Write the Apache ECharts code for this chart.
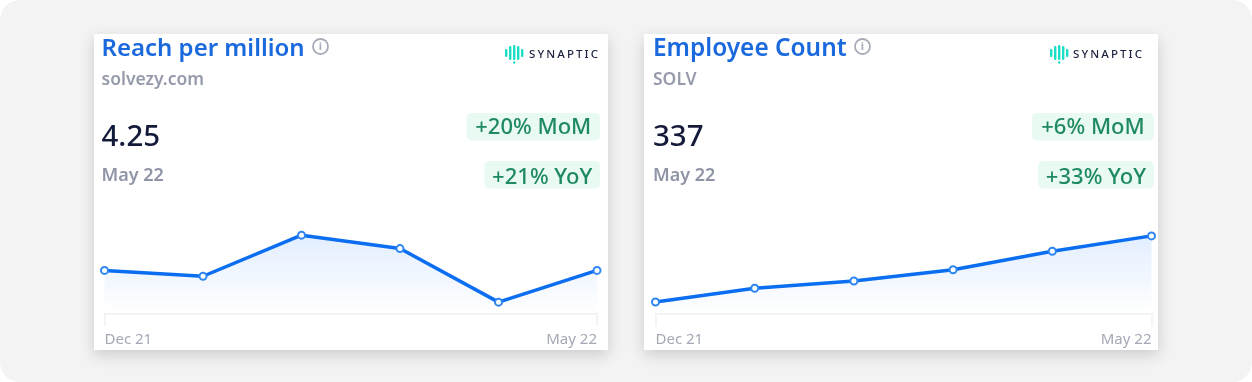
<!DOCTYPE html>
<html>
<head>
<meta charset="utf-8">
<title>Reach per million and Employee Count</title>
<script src="https://cdn.jsdelivr.net/npm/echarts@6/dist/echarts.min.js"></script>
<style>
  html, body { margin: 0; padding: 0; background: #fff; }
  #wrap { position: relative; width: 1252px; height: 382px; }
  #chart { width: 1252px; height: 382px; }
  .logo {
    position: absolute;
    font: 500 11.5px "Noto Sans", sans-serif;
    letter-spacing: 2.1px;
    color: #1c2340;
    line-height: 14px;
  }
</style>
</head>
<body>
<div id="wrap">
  <div id="chart"></div>
  <span class="logo" style="left:529px;top:47px">SYNAPTIC</span>
  <span class="logo" style="left:1073px;top:47px">SYNAPTIC</span>
</div>
<script>
const months = ['Dec 21', 'Jan 22', 'Feb 22', 'Mar 22', 'Apr 22', 'May 22'];
const reachValues = [4.25, 4.12, 5.04, 4.74, 3.54, 4.25];
const employeeValues = [255, 272, 281, 295, 318, 337];

const FONT = '"Noto Sans", sans-serif';
const BLUE = '#0b6ef0';

function label(x, y, text, size, weight, fill, align) {
  return {
    type: 'text',
    x: x,
    y: y,
    z: 5,
    style: {
      text: text,
      font: weight + ' ' + size + 'px ' + FONT,
      fill: fill,
      align: align || 'left',
      verticalAlign: 'middle'
    }
  };
}

function badge(x, y, w, h, text, textY) {
  return [
    {
      type: 'rect',
      z: 1,
      shape: { x: x, y: y, width: w, height: h, r: 5 },
      style: { fill: '#e9faf3' }
    },
    label(x + w / 2, textY, text, 22, 500, '#1f8a5f', 'center')
  ];
}

function infoIcon(cx, cy) {
  return [
    {
      type: 'circle',
      z: 5,
      shape: { cx: cx, cy: cy, r: 7.5 },
      style: { fill: 'none', stroke: '#a7acb8', lineWidth: 1.8 }
    },
    label(cx, cy + 0.5, 'i', 11, 700, '#a7acb8', 'center')
  ];
}

function logoBars(x, y) {
  const bars = [[0, 4, 8], [4, 1, 14], [8, 0, 15], [12, 1, 14], [16, 4, 8]];
  const marks = bars.map(function (b) {
    return {
      type: 'rect',
      z: 5,
      shape: { x: x + b[0], y: y + b[1], width: 2.4, height: b[2], r: 1 },
      style: { fill: '#19dfc6' }
    };
  });
  marks.push({
    type: 'circle',
    z: 5,
    shape: { cx: x + 9.2, cy: y + 17.5, r: 1.2 },
    style: { fill: '#19dfc6' }
  });
  return marks;
}

function card(x, info) {
  const right = x + 514;
  return [
    {
      type: 'rect',
      z: -1,
      shape: { x: x, y: 34, width: 514, height: 316 },
      style: {
        fill: '#ffffff',
        shadowBlur: 14,
        shadowOffsetY: 5,
        shadowColor: 'rgba(0, 0, 0, 0.16)'
      }
    },
    label(x + info.titleX, 49.5, info.title, info.titleSize, 600, '#1a69dd'),
    label(x + info.titleX, 80, info.sub, 17.5, 600, '#969bab'),
    label(x + info.titleX, 138, info.value, 29.5, 500, '#141b3a'),
    label(x + info.titleX, 176, 'May 22', 18, 600, '#8f95a6')
  ]
    .concat(infoIcon(x + info.iconX, 46.5))
    .concat(logoBars(right - info.logoX, 45))
    .concat(badge(right - info.momW - info.badgeGap, 113, info.momW, 27.5, info.mom, 128))
    .concat(badge(right - info.yoyW - info.badgeGap, 161, info.yoyW, 27.5, info.yoy, 177.5));
}

function sparkGrid(left, right) {
  return { left: left, width: right - left, top: 213.3, height: 100 };
}

function xAxis(gridIndex) {
  const ends = function (i) {
    return i === 0 || i === months.length - 1;
  };
  return {
    type: 'category',
    gridIndex: gridIndex,
    data: months,
    boundaryGap: false,
    axisLine: { lineStyle: { color: '#f1f1f3', width: 1.5 } },
    axisTick: { show: true, interval: ends, length: 13, lineStyle: { color: '#f1f1f3', width: 1.5 } },
    axisLabel: {
      interval: ends,
      alignMinLabel: 'left',
      alignMaxLabel: 'right',
      margin: 19,
      fontFamily: 'Noto Sans',
      fontSize: 15,
      color: '#a4a9b6'
    }
  };
}

function yAxis(gridIndex, min, max) {
  return { type: 'value', gridIndex: gridIndex, min: min, max: max, show: false };
}

function lineSeries(axisIndex, name, values) {
  return {
    type: 'line',
    name: name,
    xAxisIndex: axisIndex,
    yAxisIndex: axisIndex,
    data: values,
    symbol: 'circle',
    symbolSize: 7,
    showAllSymbol: true,
    animation: false,
    clip: false,
    lineStyle: { color: BLUE, width: 3.5 },
    itemStyle: { color: '#ffffff', borderColor: '#2f86f2', borderWidth: 2 },
    areaStyle: {
      color: new echarts.graphic.LinearGradient(0, 0, 0, 1, [
        { offset: 0, color: 'rgba(13, 111, 255, 0.17)' },
        { offset: 1, color: 'rgba(13, 111, 255, 0)' }
      ])
    }
  };
}

const chart = echarts.init(document.getElementById('chart'));
chart.setOption({
  animation: false,
  grid: [sparkGrid(104.5, 597), sparkGrid(655.5, 1151.5)],
  xAxis: [xAxis(0), xAxis(1)],
  yAxis: [yAxis(0, 3.29, 5.53), yAxis(1, 241, 365)],
  series: [
    lineSeries(0, 'Reach per million', reachValues),
    lineSeries(1, 'Employee Count', employeeValues)
  ],
  graphic: [
    {
      type: 'rect',
      z: -2,
      shape: { x: 0, y: 0, width: 1252, height: 382, r: 20 },
      style: { fill: '#f3f3f3' }
    }
  ]
    .concat(card(94, {
      title: 'Reach per million',
      sub: 'solvezy.com',
      value: '4.25',
      titleX: 7.5,
      titleSize: 24,
      iconX: 226.5,
      logoX: 103,
      mom: '+20% MoM',
      yoy: '+21% YoY',
      momW: 133.5,
      yoyW: 115.5,
      badgeGap: 8
    }))
    .concat(card(644, {
      title: 'Employee Count',
      sub: 'SOLV',
      value: '337',
      titleX: 9,
      titleSize: 24.4,
      iconX: 218.5,
      logoX: 108,
      mom: '+6% MoM',
      yoy: '+33% YoY',
      momW: 122,
      yoyW: 116,
      badgeGap: 4
    }))
});
window.addEventListener('resize', () => chart.resize());
</script>
</body>
</html>
